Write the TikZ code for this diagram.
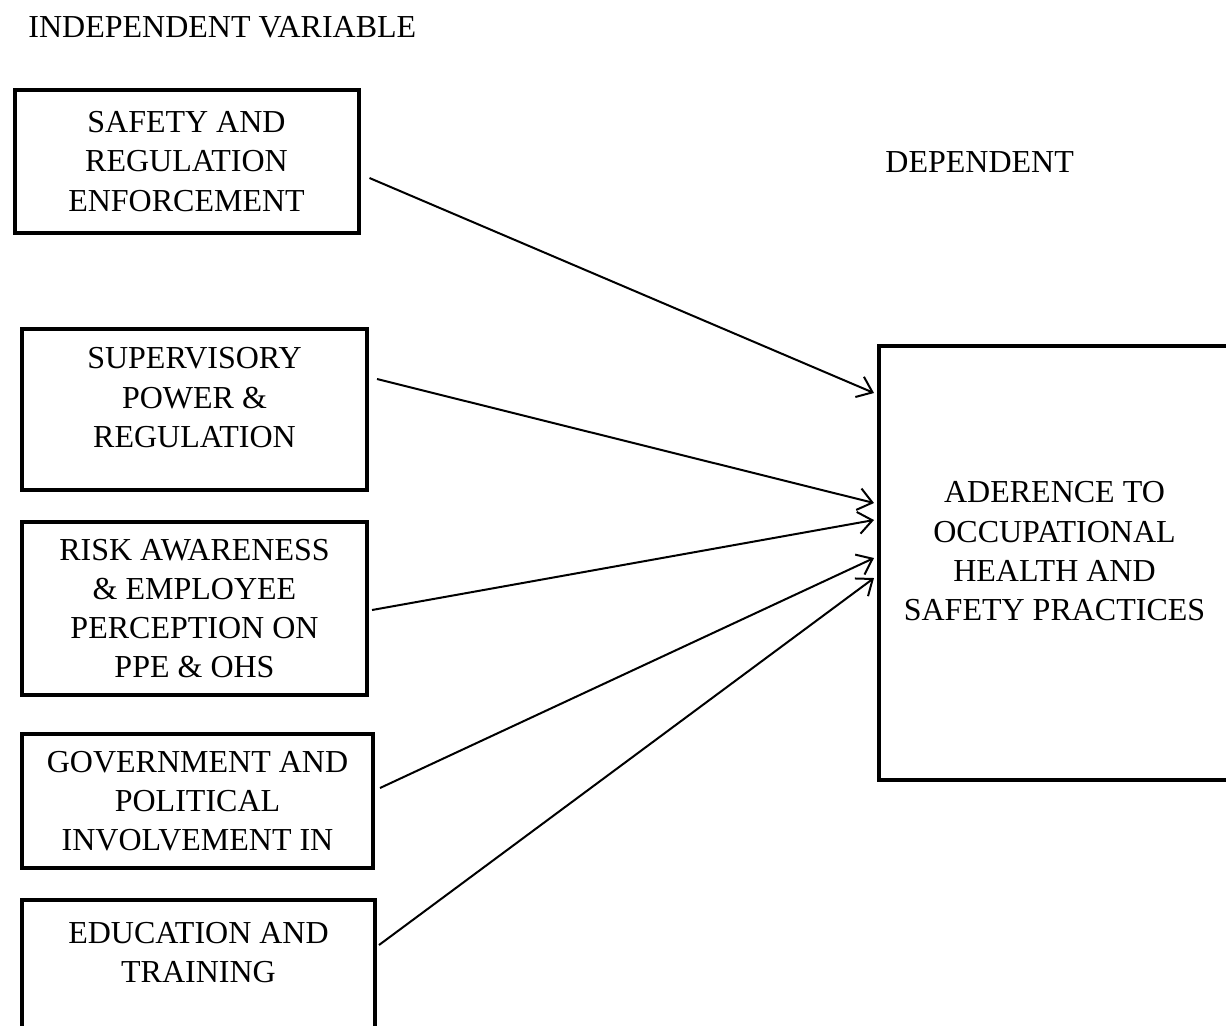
\documentclass[tikz,border=0pt]{standalone}
\usepackage{fontspec}
\setmainfont{Liberation Serif}
\usetikzlibrary{positioning, arrows.meta}

\begin{document}
\begin{tikzpicture}[x=0.5pt, y=-0.5pt,
  varbox/.style={draw, line width=2pt, align=center, inner sep=2pt,
    font=\fontsize{16}{19.6}\selectfont},
  heading/.style={anchor=base west, inner sep=0pt, font=\fontsize{16}{19.6}\selectfont},
  arr/.style={line width=1pt, -{Straight Barb[length=7pt, width=11pt, line width=1pt]}}]
\useasboundingbox (0,0) rectangle (1226,1025);
\clip (0,0) rectangle (1226,1025);
% headings
\node[heading] (indep) at (28,37) {INDEPENDENT VARIABLE};
\node[heading] (dep) at (885,172) {DEPENDENT};
% independent variables
\node[varbox, minimum width=172pt, minimum height=71.5pt] (sre) at (186.5,161.5) {SAFETY AND\\REGULATION\\ENFORCEMENT};
\node[varbox, minimum width=172.5pt, minimum height=80.5pt] (spr) at (194.5,409.5) {SUPERVISORY\\POWER \&\\REGULATION\\[-7.6pt]~};
\node[varbox, minimum width=172.5pt, minimum height=86.5pt] (rae) at (194.5,608.5) {RISK AWARENESS\\\& EMPLOYEE\\PERCEPTION ON\\PPE \& OHS};
\node[varbox, minimum width=175.5pt, minimum height=67pt] (gpi) at (197.5,801) {GOVERNMENT AND\\POLITICAL\\INVOLVEMENT IN};
\node[varbox, minimum width=176.5pt, minimum height=72pt] (edt) at (198.5,972) {EDUCATION AND\\TRAINING\\~};
% dependent variable
\node[varbox, minimum width=175.5pt, minimum height=217pt] (ohs) at (1054.5,563) {ADERENCE TO\\OCCUPATIONAL\\HEALTH AND\\SAFETY PRACTICES\\[-7.6pt]~};
% links
\draw[arr] ([shift={(9,16.5)}]sre.east) -- ([shift={(-3,-170)}]ohs.west);
\draw[arr] ([shift={(8,-30.5)}]spr.east) -- ([shift={(-3,-60)}]ohs.west);
\draw[arr] ([shift={(3,1.5)}]rae.east) -- ([shift={(-3,-43)}]ohs.west);
\draw[arr] ([shift={(5,-13)}]gpi.east) -- ([shift={(-3,-5)}]ohs.west);
\draw[arr] ([shift={(2,-27)}]edt.east) -- ([shift={(-3,15)}]ohs.west);
\end{tikzpicture}
\end{document}
